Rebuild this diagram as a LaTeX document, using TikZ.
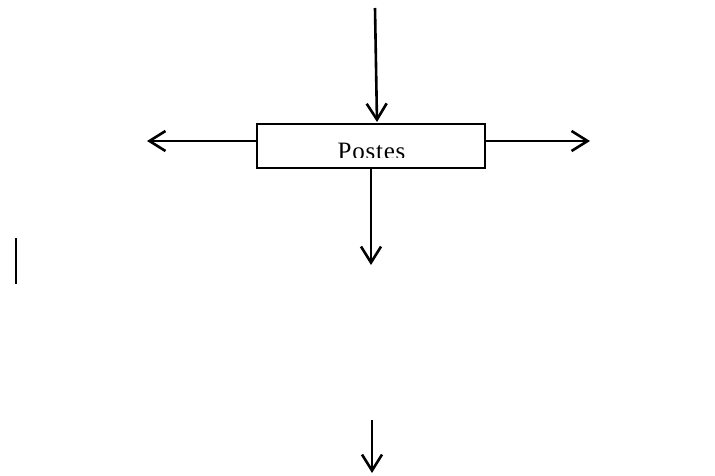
\documentclass[tikz,border=0pt]{standalone}
\usepackage{fontspec}
\setmainfont{Liberation Serif}[LetterSpace=3]
\usetikzlibrary{arrows.meta}
\begin{document}
\begin{tikzpicture}[x=1pt,y=-1pt,
  flow/.style={line width=2.6pt,-{Straight Barb[length=16pt,width=20pt,line width=2.6pt]}},
  postbox/.style={draw,line width=2pt,minimum width=228pt,minimum height=44pt,inner sep=0pt},
  plainline/.style={line width=2.6pt}]
  \useasboundingbox (0,0) rectangle (715,476);

  % central box
  \node[postbox] (box) at (371,146) {};
  \begin{scope}
    \clip (258,125) rectangle (484,157.5);
    \node[font=\fontsize{25}{28}\selectfont,anchor=base,inner sep=0pt] (label) at (371.5,160) {Postes};
  \end{scope}

  % free ends of the connectors
  \coordinate (top0) at (375,8);
  \coordinate (top1) at (377,122);
  \coordinate (left1) at (147,141);
  \coordinate (right1) at (590,141);
  \coordinate (down1) at (371,265);
  \coordinate (bar0) at (16,238);
  \coordinate (bar1) at (16,284);
  \coordinate (low0) at (372,420);
  \coordinate (low1) at (372,473);

  % connectors
  \draw[flow] (top0) -- (top1);
  \draw[flow] (box.west |- left1) -- (left1);
  \draw[flow] (box.east |- right1) -- (right1);
  \draw[flow] (box.south) -- (down1);
  \draw[flow] (low0) -- (low1);
  \draw[plainline] (bar0) -- (bar1);
\end{tikzpicture}
\end{document}
